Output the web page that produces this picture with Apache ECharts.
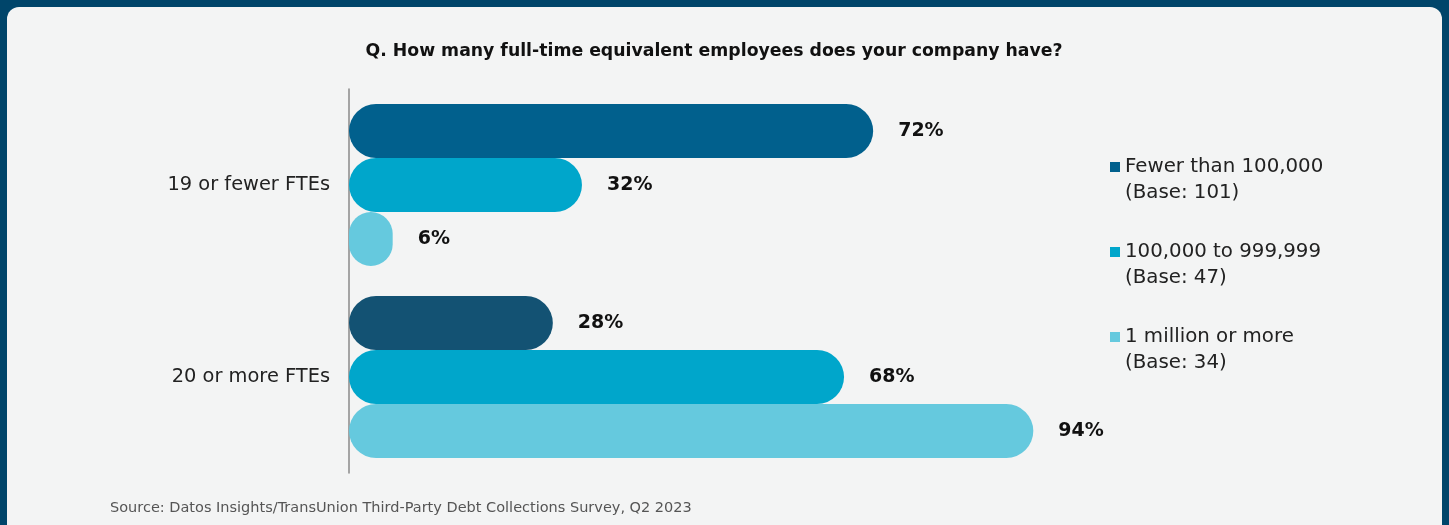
<!DOCTYPE html>
<html>
<head>
<meta charset="utf-8">
<script src="https://cdn.jsdelivr.net/npm/echarts@6/dist/echarts.min.js"></script>
<style>
  html, body { margin: 0; padding: 0; background: #00456a; }
  #chart { width: 1449px; height: 525px; }
</style>
</head>
<body>
<div id="chart"></div>
<script>
// Company size groups (rows) and respondent segments (bars)
const categories = ['19 or fewer FTEs', '20 or more FTEs'];
const segmentNames = ['Fewer than 100,000', '100,000 to 999,999', '1 million or more'];
const segmentBases = ['(Base: 101)', '(Base: 47)', '(Base: 34)'];
const fewerThan100k = [72, 28];
const from100kTo999k = [32, 68];
const millionOrMore = [6, 94];

const titleText = 'Q. How many full-time equivalent employees does your company have?';
const sourceText = 'Source: Datos Insights/TransUnion Third-Party Debt Collections Survey, Q2 2023';

const segmentColors = ['#01608d', '#00a6cb', '#65c9de'];
const seriesValues = [fewerThan100k, from100kTo999k, millionOrMore];

const FONT = '"DejaVu Sans", "Noto Sans", sans-serif';

const chart = echarts.init(document.getElementById('chart'), null, { renderer: 'canvas' });

const series = segmentNames.map((name, i) => ({
  name: name,
  type: 'bar',
  barWidth: 54,
  barGap: '0%',
  itemStyle: { color: segmentColors[i], borderRadius: 27 },
  data: seriesValues[i].map((v, j) => {
    // the dark bar in the lower row is drawn a touch deeper
    if (i === 0 && j === 1) return { value: v, itemStyle: { color: '#135273' } };
    return v;
  }),
  label: {
    show: true,
    position: 'right',
    distance: 25,
    formatter: '{c}%',
    fontFamily: FONT,
    fontWeight: 'bold',
    fontSize: 19,
    color: '#111'
  },
  z: 3 - i
}));

chart.setOption({
  backgroundColor: '#00456a',
  animation: false,
  graphic: [
    {
      type: 'rect',
      z: -10,
      shape: { x: 7, y: 7, width: 1435, height: 540, r: 12 },
      style: { fill: '#f3f4f4' }
    },
    {
      type: 'text',
      left: 110,
      top: 501,
      style: { text: sourceText, fontFamily: FONT, fontSize: 14.5, fill: '#555' }
    }
  ],
  title: {
    text: titleText,
    left: 709,
    textAlign: 'center',
    top: 38,
    textStyle: { fontFamily: FONT, fontWeight: 'bold', fontSize: 17.3, color: '#111' }
  },
  legend: {
    orient: 'vertical',
    left: 1110,
    top: 131,
    padding: 0,
    icon: 'rect',
    itemWidth: 10,
    itemHeight: 10,
    itemGap: 13,
    itemTextGap: 5,
    selectedMode: false,
    data: segmentNames,
    // an empty first line keeps the swatch level with the segment name
    formatter: name => '{e| }\n{a|' + name + '}\n{a|' + segmentBases[segmentNames.indexOf(name)] + '}',
    textStyle: {
      fontFamily: FONT,
      fontSize: 19.8,
      color: '#222',
      rich: {
        e: { fontSize: 19.8, lineHeight: 26 },
        a: { fontFamily: FONT, fontSize: 19.8, lineHeight: 26, color: '#222' }
      }
    }
  },
  grid: { left: 349, top: 89, width: 728, height: 384 },
  xAxis: {
    type: 'value',
    min: 0,
    max: 100,
    show: false
  },
  yAxis: {
    type: 'category',
    inverse: true,
    data: categories,
    axisLine: { show: true, lineStyle: { color: '#8a8a8a', width: 1.5 } },
    axisTick: { show: false },
    axisLabel: {
      margin: 19,
      fontFamily: FONT,
      fontSize: 19.4,
      color: '#222'
    }
  },
  series: series
});
</script>
</body>
</html>
